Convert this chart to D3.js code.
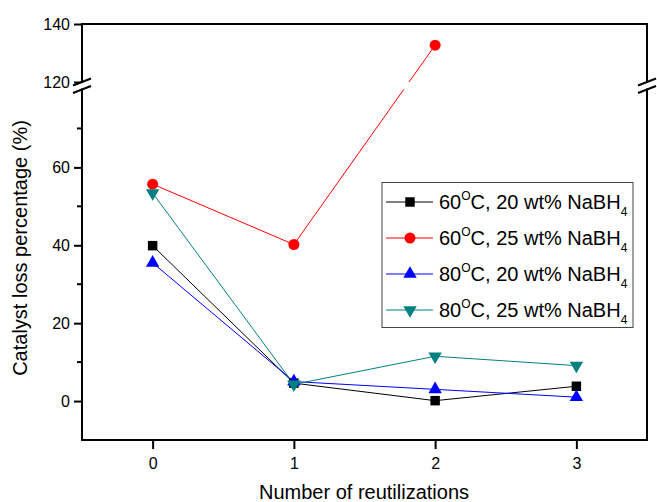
<!DOCTYPE html>
<meta charset="utf-8">
<body style="margin:0;background:#fff">
<div id="chart"></div>
</body>
<script src="https://cdn.jsdelivr.net/npm/d3@7"></script>
<script>
// reutilization cycles
var cycles = [0, 1, 2, 3];
// catalyst loss (%) for each run
var loss60c20 = [39.9, 4.6, 0.1, 3.8];
var loss60c25 = [55.7, 40.2, 132.7];
var loss80c20 = [35.5, 5.0, 3.0, 1.0];
var loss80c25 = [53.4, 4.3, 11.5, 9.1];
var seriesNames = ["60", "60", "80", "80"];
var seriesConc = ["20", "25", "20", "25"];
var yTicks = [0, 20, 40, 60, 120, 140];
var yMinor = [10, 30, 50, 70];

var width = 657, height = 502;
var plotLeft = 82, plotRight = 647, plotTop = 24, plotBottom = 440;

var svg = d3.select("#chart").append("svg")
	.attr("width", width)
	.attr("height", height)
	.style("font-family", "Arial, 'Liberation Sans', sans-serif");

var x = d3.scaleLinear().domain([-0.5, 3.5]).range([plotLeft, plotRight]);
// broken axis: -10..80 below, 120..140 above
var y = d3.scaleLinear()
	.domain([-10, 80, 120, 140])
	.range([plotBottom, 89.5, 82, plotTop]);

var series = [
	{ values: loss60c20, color: "#000000", symbol: d3.symbolSquare, size: 90, rot: 0 },
	{ values: loss60c25, color: "#ff0000", symbol: d3.symbolCircle, size: 95, rot: 0 },
	{ values: loss80c20, color: "#0000ff", symbol: d3.symbolTriangle, size: 78, rot: 0 },
	{ values: loss80c25, color: "#008080", symbol: d3.symbolTriangle, size: 78, rot: 180 }
];

// clip lines out of the break band
var clip = svg.append("defs").append("clipPath").attr("id", "gap");
clip.append("rect").attr("x", 0).attr("y", 0).attr("width", width).attr("height", y(120));
clip.append("rect").attr("x", 0).attr("y", y(80)).attr("width", width).attr("height", height - y(80));

var line = d3.line()
	.x(function (d, i) { return x(cycles[i]); })
	.y(function (d) { return y(d); });

var plot = svg.append("g");
series.forEach(function (s) {
	plot.append("path")
		.attr("d", line(s.values))
		.attr("fill", "none")
		.attr("stroke", s.color)
		.attr("stroke-width", 1)
		.attr("clip-path", "url(#gap)");
});
series.forEach(function (s) {
	var sym = d3.symbol().type(s.symbol).size(s.size);
	plot.selectAll(null)
		.data(s.values)
		.enter().append("path")
		.attr("d", sym)
		.attr("fill", s.color)
		.attr("transform", function (d, i) {
			return "translate(" + x(cycles[i]) + "," + y(d) + ") rotate(" + s.rot + ")";
		});
});

// axes
var yAxis = svg.append("g")
	.attr("transform", "translate(" + plotLeft + ",0)")
	.call(d3.axisLeft(y).tickValues(yTicks).tickSize(8).tickPadding(4).tickFormat(d3.format("d")));
var xAxis = svg.append("g")
	.attr("transform", "translate(0," + plotBottom + ")")
	.call(d3.axisBottom(x).tickValues(cycles).tickSize(9).tickPadding(9).tickFormat(d3.format("d")));
[yAxis, xAxis].forEach(function (a) {
	a.attr("font-size", null).attr("font-family", null);
	a.select(".domain").remove();
	a.selectAll(".tick line").attr("stroke", "#000").attr("stroke-width", 2);
	a.selectAll(".tick text").attr("fill", "#000").style("font-size", "16px");
});
svg.append("g").selectAll("line")
	.data(yMinor)
	.enter().append("line")
	.attr("x1", plotLeft - 5).attr("x2", plotLeft)
	.attr("y1", function (d) { return y(d); })
	.attr("y2", function (d) { return y(d); })
	.attr("stroke", "#000").attr("stroke-width", 2);

svg.append("rect")
	.attr("x", plotLeft).attr("y", plotTop)
	.attr("width", plotRight - plotLeft).attr("height", plotBottom - plotTop)
	.attr("fill", "none").attr("stroke", "#000").attr("stroke-width", 2);

// break marks on both sides
[plotLeft, plotRight].forEach(function (ax) {
	svg.append("rect")
		.attr("x", ax - 2).attr("y", y(120) + 1)
		.attr("width", 4).attr("height", y(80) - y(120) - 2)
		.attr("fill", "#fff");
	[120, 80].forEach(function (v) {
		svg.append("line")
			.attr("x1", ax - 9).attr("y1", y(v) + 3.5)
			.attr("x2", ax + 9).attr("y2", y(v) - 3.5)
			.attr("stroke", "#000").attr("stroke-width", 2);
	});
});

// axis titles
svg.append("text")
	.attr("x", 364).attr("y", 499)
	.attr("text-anchor", "middle")
	.style("font-size", "20px")
	.text("Number of reutilizations");
svg.append("text")
	.attr("transform", "translate(27,248) rotate(-90)")
	.attr("text-anchor", "middle")
	.style("font-size", "20px")
	.text("Catalyst loss percentage (%)");

// legend
var lg = svg.append("g");
lg.append("rect")
	.attr("x", 382).attr("y", 182.5)
	.attr("width", 251).attr("height", 145)
	.attr("fill", "#fff").attr("stroke", "#444").attr("stroke-width", 1);
series.forEach(function (s, i) {
	var cy = 202 + i * 36;
	lg.append("line")
		.attr("x1", 386).attr("x2", 433)
		.attr("y1", cy).attr("y2", cy)
		.attr("stroke", s.color).attr("stroke-width", 1);
	lg.append("path")
		.attr("d", d3.symbol().type(s.symbol).size(s.size))
		.attr("fill", s.color)
		.attr("transform", "translate(410," + cy + ") rotate(" + s.rot + ")");
	var t = lg.append("text")
		.attr("x", 439).attr("y", cy + 7)
		.style("font-size", "20px");
	t.append("tspan").text(seriesNames[i]);
	t.append("tspan").attr("dy", -9).style("font-size", "12px").text("O");
	t.append("tspan").attr("dy", 9).text("C, " + seriesConc[i] + " wt% NaBH");
	t.append("tspan").attr("dy", 7).style("font-size", "12px").text("4");
});
</script>
